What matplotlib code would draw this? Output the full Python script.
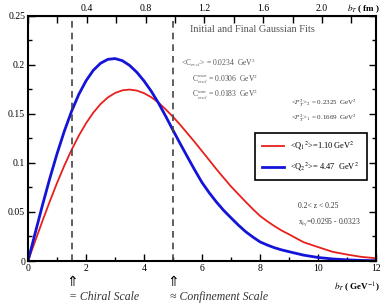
import matplotlib
matplotlib.use("Agg")
import matplotlib.pyplot as plt
from matplotlib.ticker import MultipleLocator, FixedLocator
import matplotlib.transforms as mtransforms

plt.rcParams['font.family'] = ['Liberation Serif', 'DejaVu Sans']
plt.rcParams['mathtext.fontset'] = 'stix'

# b_T in GeV^-1
bT = [0, 0.25, 0.5, 0.75, 1.0, 1.25, 1.5, 1.75, 2.0, 2.25, 2.5, 2.75, 3.0,
      3.25, 3.5, 3.75, 4.0, 4.25, 4.5, 4.75, 5.0, 5.25, 5.5, 5.75, 6.0,
      6.25, 6.5, 6.75, 7.0, 7.25, 7.5, 7.75, 8.0, 8.25, 8.5, 8.75, 9.0,
      9.5, 10.0, 10.5, 11.0, 11.5, 12.0]
red_q1 = [0, 0.0206, 0.0410, 0.0607, 0.0795, 0.0971, 0.1132, 0.1277, 0.1404,
          0.1512, 0.1600, 0.1667, 0.1713, 0.1740, 0.1748, 0.1738, 0.1711,
          0.1670, 0.1615, 0.1545, 0.1470, 0.1388, 0.1300, 0.1212, 0.1120,
          0.1028, 0.0935, 0.0847, 0.0760, 0.0682, 0.0605, 0.0530, 0.0460,
          0.0405, 0.0355, 0.0310, 0.0272,
          0.0192, 0.0142, 0.0094, 0.0066, 0.0042, 0.0028]
blue_q2 = [0, 0.0288, 0.0571, 0.0841, 0.1093, 0.1322, 0.1525, 0.1698, 0.1837,
           0.1944, 0.2016, 0.2056, 0.2064, 0.2043, 0.1995, 0.1925, 0.1836,
           0.1731, 0.1610, 0.1475, 0.1333, 0.1195, 0.1060, 0.0927, 0.0800,
           0.0695, 0.0600, 0.0515, 0.0440, 0.0367, 0.0300, 0.0245, 0.0195,
           0.0163, 0.0135, 0.0113, 0.0095,
           0.0060, 0.0036, 0.0021, 0.0012, 0.0006, 0.0003]
scales = [1.5, 5.0]
fm_ticks = [0.4, 0.8, 1.2, 1.6, 2.0]
GEV_FM = 5.068

fig = plt.figure(figsize=(3.81, 3.04), dpi=100)
ax = fig.add_axes([0.0735, 0.1414, 0.9135, 0.8066])

ax.plot(bT, red_q1, color='#e8201c', lw=1.3,
        label=r'<Q$_1$$^2$>=1.10 GeV$^2$')
ax.plot(bT, blue_q2, color='#1414d8', lw=2.0,
        label=r'<Q$_2$$^2$>= 4.47  GeV$^2$')
for s in scales:
    ax.axvline(s, color='#444444', lw=1.2, ls=(0, (4, 3)))

ax.set_xlim(0, 12)
ax.set_ylim(0, 0.25)
ax.set_xticks([0, 2, 4, 6, 8, 10, 12])
ax.set_xticklabels(['0', '2', '4', '6', '8', '10', '12'])
ax.xaxis.set_minor_locator(MultipleLocator(1))
ax.set_yticks([0, 0.05, 0.1, 0.15, 0.2, 0.25])
ax.set_yticklabels(['0', '0.05', '0.1', '0.15', '0.2', '0.25'])
ax.yaxis.set_minor_locator(MultipleLocator(0.025))
ax.tick_params(which='both', direction='in', top=False, right=True,
               labelsize=7, pad=2)
ax.tick_params(which='major', length=5, width=1)
ax.tick_params(which='minor', length=3, width=1)
for sp in ax.spines.values():
    sp.set_linewidth(1.5)

sec = ax.secondary_xaxis('top', functions=(lambda b: b / GEV_FM,
                                           lambda f: f * GEV_FM))
sec.xaxis.set_major_locator(FixedLocator(fm_ticks))
sec.xaxis.set_minor_locator(MultipleLocator(0.2))
sec.set_xticklabels(['0.4', '0.8', '1.2', '1.6', '2.0'])
sec.tick_params(which='both', direction='in', labelsize=7, pad=2)
sec.tick_params(which='major', length=5, width=1)
sec.tick_params(which='minor', length=5, width=1)

gray = '#555555'
ax.text(0.465, 0.935, 'Initial and Final Gaussian Fits', transform=ax.transAxes,
        fontsize=7.5, color=gray)
ax.text(0.44, 0.795, r'<C$_{evol}$> = 0.0234  GeV$^2$', transform=ax.transAxes,
        fontsize=5.5, color=gray)
ax.text(0.47, 0.73, r'C$_{evol}^{max}$ = 0.0306  GeV$^2$', transform=ax.transAxes,
        fontsize=5.5, color=gray)
ax.text(0.47, 0.665, r'C$_{evol}^{min}$ = 0.0183  GeV$^2$', transform=ax.transAxes,
        fontsize=5.5, color=gray)
ax.text(0.755, 0.635, r'<$P_T^2$>$_2$ = 0.2325  GeV$^2$', transform=ax.transAxes,
        fontsize=5, color='#333333')
ax.text(0.755, 0.575, r'<$P_T^2$>$_1$ = 0.1669  GeV$^2$', transform=ax.transAxes,
        fontsize=5, color='#333333')
ax.text(0.775, 0.215, '0.2< z < 0.25', transform=ax.transAxes,
        fontsize=5.5, color='#333333')
ax.text(0.775, 0.15, r'x$_{bj}$=0.0295 - 0.0323', transform=ax.transAxes,
        fontsize=5.5, color='#333333')

leg = ax.legend(loc='lower left', bbox_to_anchor=(0.653, 0.331, 0.321, 0.196),
                mode='expand', fontsize=6, frameon=True, fancybox=False,
                edgecolor='black', framealpha=1, handlelength=2.6,
                borderpad=0.8, labelspacing=1.0, borderaxespad=0)
leg.get_frame().set_linewidth(1.2)

trans = mtransforms.blended_transform_factory(ax.transData, ax.transAxes)
for s in scales:
    ax.text(s, -0.085, '\u21d1', transform=trans, ha='center', va='center',
            fontsize=10, family='DejaVu Sans', clip_on=False)
ax.text(1.4, -0.145, '= Chiral Scale', transform=trans, ha='left',
        va='center', fontsize=8.5, style='italic', color='#333333', clip_on=False)
ax.text(4.9, -0.145, '\u2248 Confinement Scale', transform=trans, ha='left',
        va='center', fontsize=8.5, style='italic', color='#333333', clip_on=False,
        family=['Liberation Serif', 'DejaVu Sans'])

fig.text(0.997, 0.055, r'$\boldsymbol{b_T}$ ( GeV$^{-1}$)', fontsize=6.5,
         ha='right', va='center', weight='bold')
fig.text(0.997, 0.972, r'$\boldsymbol{b_T}$ ( fm )', fontsize=6.5,
         ha='right', va='center', weight='bold')

fig.savefig('out.png', dpi=100)
